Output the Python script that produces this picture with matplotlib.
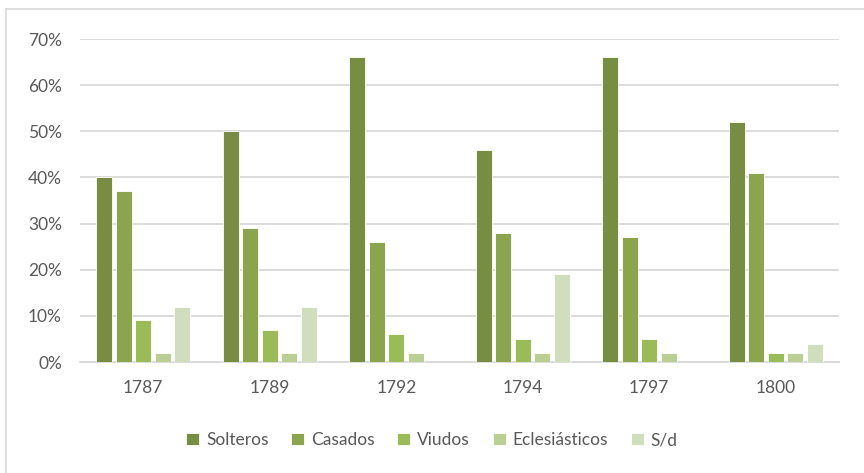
import numpy as np
import matplotlib.pyplot as plt
from matplotlib.lines import Line2D

years = ['1787', '1789', '1792', '1794', '1797', '1800']
series = ['Solteros', 'Casados', 'Viudos', 'Eclesiásticos', 'S/d']
solteros = [40, 50, 66, 46, 66, 52]
casados = [37, 29, 26, 28, 27, 41]
viudos = [9, 7, 6, 5, 5, 2]
eclesiasticos = [2, 2, 2, 2, 2, 2]
sd = [12, 12, 0, 19, 0, 4]
values = [solteros, casados, viudos, eclesiasticos, sd]
colors = ['#778D42', '#8BA54E', '#9BBB59', '#BBCF95', '#D1DEBD']

plt.rcParams['font.family'] = ['Lato', 'DejaVu Sans']

fig = plt.figure(figsize=(8.64, 4.73), dpi=100)
ax = fig.add_axes([80 / 864, 1 - 362 / 473, 759 / 864, 323 / 473])

x = np.arange(len(years))
step = 0.154
for i, (name, vals, c) in enumerate(zip(series, values, colors)):
    ax.bar(x + (i - 2) * step, vals, width=0.124, color=c, label=name,
           edgecolor='white', linewidth=0.6, zorder=3)

ax.set_xlim(-0.5, 5.5)
ax.set_ylim(0, 70)
ax.set_yticks(range(0, 71, 10))
ax.set_yticklabels([f'{v}%' for v in range(0, 71, 10)])
ax.set_xticks(x)
ax.set_xticklabels(years)
ax.yaxis.grid(True, color='#D9D9D9', linewidth=1.3, zorder=0)
ax.set_axisbelow(True)
for s in ['top', 'right', 'left']:
    ax.spines[s].set_visible(False)
ax.spines['bottom'].set_color('#D9D9D9')
ax.spines['bottom'].set_linewidth(1.3)
ax.tick_params(axis='both', length=0, labelsize=12.5, labelcolor='#595959')
ax.tick_params(axis='y', pad=13)
ax.tick_params(axis='x', pad=13)

leg = fig.legend(loc='center', bbox_to_anchor=(0.5, 1 - 440 / 473), ncol=5,
                 frameon=False, fontsize=12.5, handlelength=0.75, handleheight=0.75,
                 handletextpad=0.4, columnspacing=1.3)
for t in leg.get_texts():
    t.set_color('#595959')

# chart border (only top and left edges fall inside the image)
fig.add_artist(Line2D([6 / 864, 6 / 864], [0, 1 - 9 / 473], transform=fig.transFigure,
                      color='#D9D9D9', linewidth=1.2))
fig.add_artist(Line2D([6 / 864, 1], [1 - 9 / 473, 1 - 9 / 473], transform=fig.transFigure,
                      color='#D9D9D9', linewidth=1.2))

fig.savefig('out.png', dpi=100)
